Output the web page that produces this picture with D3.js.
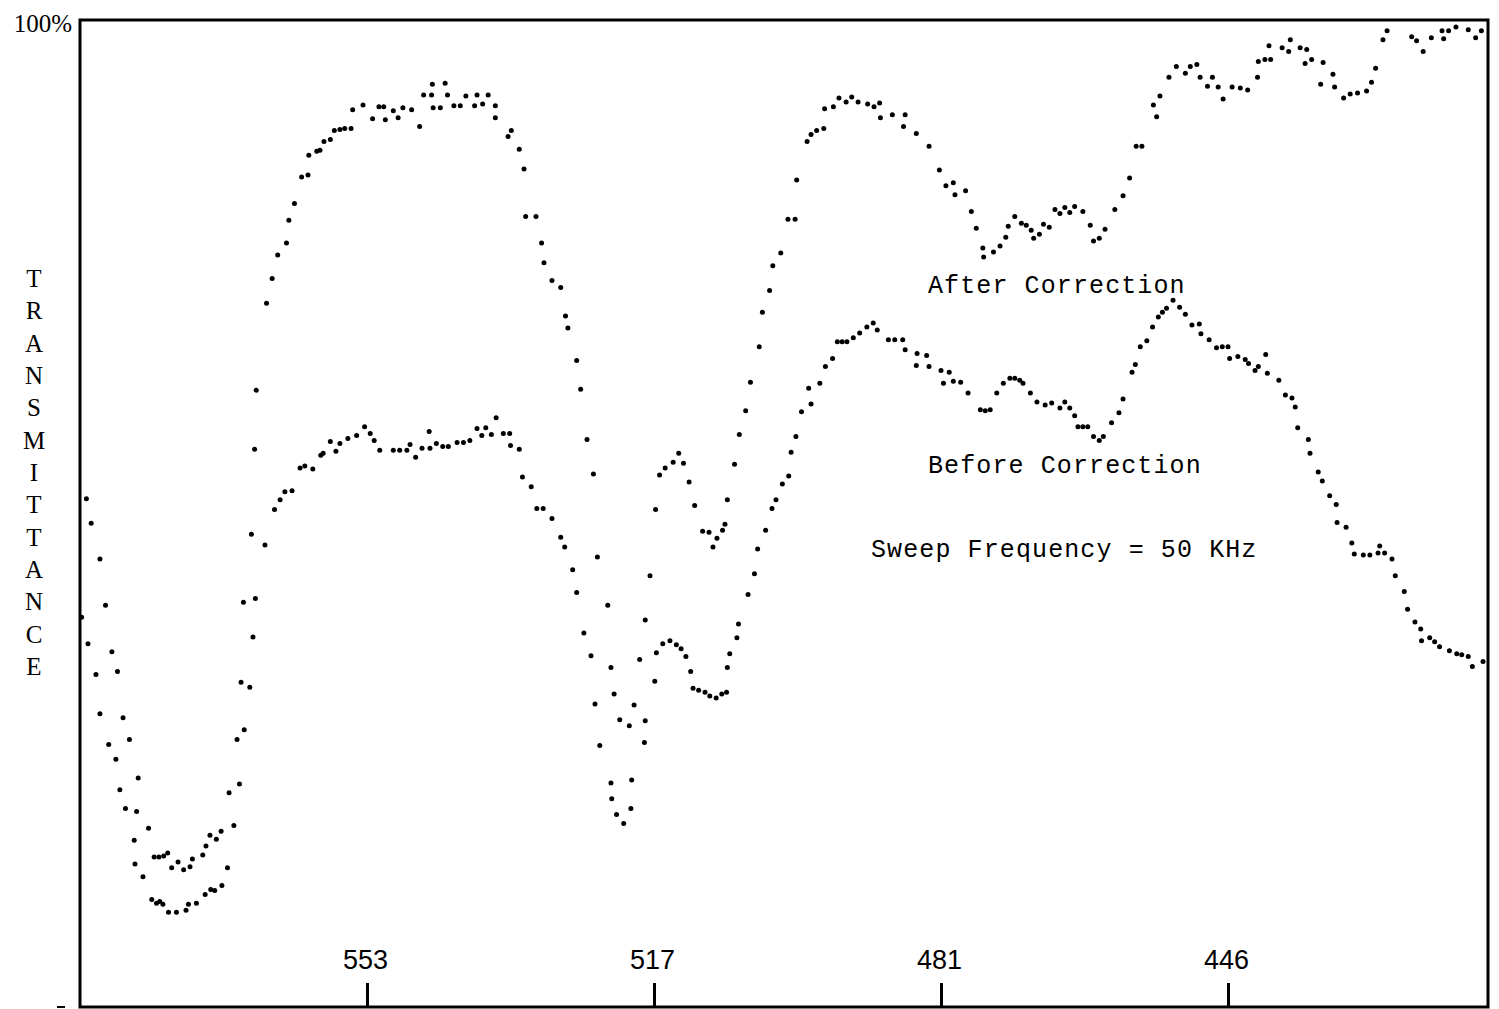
<!DOCTYPE html>
<html>
<head>
<meta charset="utf-8">
<script src="https://cdn.jsdelivr.net/npm/d3@7"></script>
<style>
  html, body { margin: 0; padding: 0; background: #fff; }
  svg { display: block; }
</style>
</head>
<body>
<svg id="chart" width="1499" height="1009"></svg>
<script>
// ---------------- DATA ----------------
const tickValues = [553, 517, 481, 446];
const tickLabels = ["553", "517", "481", "446"];
const yAxisTitle = "TRANSMITTANCE";
const topLabel = "100%";
const seriesLabels = ["After Correction", "Before Correction", "Sweep Frequency = 50 KHz"];

// [wavenumber, transmittance %]
const afterCorrection = [
  [588.2,51.5],[587.6,49.0],[586.5,45.4],[585.8,40.7],[585.0,36.0],[584.3,34.0],[583.6,29.3],[582.8,27.1],[581.7,23.2],[581.9,19.8],
  [580.4,18.1],[579.7,15.2],[579.1,15.2],[578.5,15.3],[578.0,15.6],[577.5,14.1],[576.7,14.7],[576.0,13.9],[575.2,14.2],[574.9,15.0],
  [573.6,15.4],[573.2,16.3],[572.7,17.4],[571.9,17.0],[571.3,17.8],[570.3,21.7],[569.3,27.1],[568.8,32.9],[568.5,41.0],[567.5,47.9],
  [567.1,56.5],[566.9,62.5],[565.6,71.3],[564.9,73.8],[564.2,76.2],[563.1,77.4],[562.8,79.7],[562.1,81.4],[561.2,84.1],[560.4,84.3],
  [560.3,86.3],[559.3,86.7],[558.9,86.8],[558.4,87.7],[557.6,87.9],[557.1,88.8],[556.4,88.9],[555.8,89.0],[555.0,89.0],[554.8,90.9],
  [553.5,91.4],[552.3,90.0],[551.5,91.2],[550.9,91.2],[550.7,89.9],[549.7,90.8],[549.1,90.1],[548.5,91.1],[547.4,90.9],[546.4,89.2],
  [545.9,92.4],[544.9,92.4],[544.8,93.5],[543.2,93.6],[544.7,91.1],[543.8,91.1],
  [542.9,92.4],[542.1,91.3],[541.3,91.3],[540.6,92.3],[539.5,91.3],[539.2,92.4],[538.5,91.5],[537.8,92.4],[536.9,91.3],[536.9,90.1],
  [535.3,88.2],[534.9,88.8],[533.9,86.9],[533.3,84.9],[533.1,80.1],[531.8,80.1],[531.1,77.4],[530.8,75.4],[529.8,73.6],[528.7,72.9],
  [528.1,70.0],[527.8,68.8],[526.7,65.5],[526.2,62.6],[525.4,57.5],[524.6,54.0],[524.1,45.6],[522.8,40.7],[522.4,34.4],[522.0,31.7],
  [521.3,29.1],[520.1,28.5],[519.5,30.6],[518.8,35.2],[518.1,39.2],[517.5,43.7],[516.8,50.4],[516.3,53.9],[515.6,54.6],[514.6,55.2],
  [513.9,56.1],[513.3,55.1],[512.6,53.2],[511.9,50.8],[510.9,48.2],[510.1,48.1],[509.6,46.6],[509.1,47.5],[508.4,48.3],[508.1,48.9],
  [507.8,51.4],[506.9,55.0],[506.3,58.0],[505.5,60.4],[504.9,63.3],[503.8,66.9],[503.4,70.4],[502.5,72.6],[502.1,75.1],[501.1,76.4],
  [500.2,79.8],[499.3,79.8],[499.1,83.8],[497.8,87.7],[497.3,88.4],[496.6,88.8],[495.7,89.0],[495.6,91.0],[494.5,91.2],[493.8,92.1],
  [492.9,91.7],[492.2,92.2],[491.4,91.7],[490.2,91.5],[489.4,91.2],[488.7,91.6],[488.6,90.1],[487.1,90.4],[485.5,90.4],[485.7,89.2],
  [484.1,88.5],[482.5,87.2],[481.2,84.8],[480.4,83.2],[479.5,83.5],[479.3,82.3],[478.0,82.7],[477.3,80.6],[476.7,78.9],[475.9,76.9],
  [475.8,76.0],[474.6,76.5],[473.8,77.1],[473.1,78.0],[472.8,79.1],[472.0,80.1],[471.2,79.4],[470.6,79.2],[470.0,78.7],[469.7,77.9],
  [469.0,78.3],[468.5,79.3],[467.8,79.0],[467.1,80.8],[466.5,80.4],[465.9,81.0],[465.3,80.5],[464.7,81.1],[463.7,80.6],[462.8,79.2],
  [462.4,77.6],[461.7,77.9],[461.0,78.8],[459.8,80.8],[458.8,82.2],[458.0,84.0],[457.2,87.2],[456.5,87.2],[455.1,91.4],[454.7,90.2],
  [454.3,92.3],[453.2,94.2],[452.3,95.3],[451.2,94.6],[450.6,95.3],[449.8,95.5],[449.4,94.2],[448.5,93.3],[447.9,94.2],[447.2,93.2],
  [446.6,92.0],[445.5,93.2],[444.5,93.1],[443.6,92.9],[442.4,94.2],[442.3,95.8],[441.5,96.0],[441.0,97.4],[440.8,96.0],[439.4,97.2],
  [438.6,96.8],[438.4,98.0],[437.2,97.2],[436.4,97.0],[436.6,95.6],[435.8,96.0],[434.7,93.5],[434.4,95.7],[433.2,94.5],[433.0,93.2],
  [431.9,92.1],[431.1,92.5],[430.2,92.6],[429.1,92.8],[428.5,93.7],[428.0,95.1],[427.1,98.0],[426.6,98.9],[423.6,98.3],[423.0,97.9],
  [422.2,96.8],[421.2,98.2],[419.9,98.9],[419.7,98.1],[419.1,98.9],[418.2,99.3],[416.7,99.0],[415.8,98.2],[415.1,98.9]
];

const beforeCorrection = [
  [588.8,39.5],[588.0,36.8],[587.0,33.7],[586.5,29.7],[585.4,26.6],[584.5,25.1],[584.0,22.0],[583.3,20.1],[582.2,16.9],[582.1,14.5],
  [581.1,13.2],[580.0,10.9],[579.4,10.5],[579.0,10.7],[578.6,10.4],[577.9,9.6],[576.9,9.6],[575.7,9.8],[575.4,10.4],[574.4,10.5],
  [573.3,11.4],[572.6,11.9],[572.1,11.8],[571.2,12.3],[570.5,14.1],[569.7,18.4],[569.0,22.6],[568.4,28.1],[567.7,32.4],[567.3,37.5],
  [567.0,41.4],[565.8,46.8],[564.6,50.4],[563.9,51.4],[563.3,52.2],[562.4,52.3],[561.4,54.6],[560.8,54.8],[559.8,54.5],[558.8,55.9],
  [558.5,56.1],[557.6,57.3],[556.9,56.3],[556.4,57.1],[555.4,57.6],[554.3,57.9],[553.3,58.8],[552.6,58.1],[552.1,57.4],[551.4,56.4],
  [549.7,56.4],[548.9,56.4],[548.0,56.4],[547.6,57.0],[546.9,55.7],[546.1,56.6],[545.1,56.6],[545.2,58.3],[544.3,57.1],[543.5,56.8],
  [542.8,56.8],[541.7,57.2],[540.9,57.2],[540.1,57.4],[539.2,58.6],[538.1,58.7],[538.6,57.9],[537.4,58.0],[536.8,59.7],[535.9,58.1],
  [535.1,58.1],[535.0,56.9],[533.9,56.5],[533.5,53.7],[532.4,52.7],[531.7,50.5],[530.9,50.5],[529.8,49.5],[528.7,47.6],[528.2,46.6],
  [527.2,44.3],[526.7,42.0],[525.8,37.9],[524.9,35.6],[524.4,30.7],[523.8,26.5],[522.4,22.7],[522.3,21.1],[521.7,19.5],[520.8,18.6],
  [519.9,20.1],[519.8,23.0],[518.2,26.8],[518.1,29.0],[516.9,33.0],[516.7,35.9],[515.9,36.8],[515.0,37.1],[514.2,36.7],[513.6,36.3],
  [513.0,35.5],[512.4,34.0],[512.1,32.3],[511.4,32.1],[510.6,31.9],[510.0,31.5],[509.2,31.3],[508.5,31.7],[507.9,31.9],[507.8,34.4],
  [507.5,35.8],[506.6,37.4],[506.4,38.8],[505.2,41.8],[504.4,43.9],[504.0,46.4],[503.0,48.3],[502.2,50.5],[501.7,51.4],[500.9,53.0],
  [500.1,53.8],[499.8,56.2],[499.2,57.8],[498.5,60.3],[497.3,61.1],[497.6,62.7],[496.2,63.2],[495.5,64.9],[494.6,65.7],[494.0,67.4],
  [493.4,67.4],[492.8,67.4],[492.0,67.8],[491.2,68.3],[490.3,68.9],[489.5,69.3],[489.0,68.6],[487.6,67.6],[486.8,67.6],[485.8,67.6],
  [485.5,66.6],[484.0,66.2],[482.8,66.0],[484.1,65.0],[482.5,64.9],[481.0,64.5],[480.0,64.3],[480.7,63.2],[479.5,63.4],[478.6,63.3],
  [477.7,62.2],[476.2,60.5],[475.6,60.4],[475.0,60.5],[474.2,62.2],[473.4,63.2],[472.6,63.7],[472.0,63.7],[471.4,63.5],[471.0,63.2],
  [470.1,62.2],[469.3,61.3],[468.3,61.0],[467.5,61.2],[466.5,60.7],[465.9,61.3],[465.3,60.7],[464.7,59.9],[464.3,58.8],[463.7,58.8],
  [463.1,58.8],[462.4,57.8],[461.7,57.4],[461.2,57.8],[460.2,59.2],[459.3,60.2],[458.8,61.6],[457.7,64.3],[457.3,65.1],[456.7,66.9],
  [455.9,67.5],[455.2,68.9],[454.5,69.9],[454.0,70.4],[453.5,70.8],[452.7,71.6],[451.9,70.9],[451.2,70.2],[450.4,69.1],[449.5,69.2],
  [449.3,68.2],[448.3,67.6],[447.4,66.8],[446.7,66.9],[446.0,66.9],[445.8,65.7],[444.8,65.9],[443.9,65.6],[443.5,65.2],[442.7,64.5],
  [442.3,64.9],[441.4,66.1],[441.2,64.2],[439.8,63.5],[439.0,62.0],[438.2,61.7],[437.8,60.8],[437.5,58.7],[436.2,57.5],[436.0,56.1],
  [435.0,54.2],[434.5,53.3],[433.6,51.8],[432.8,50.9],[432.7,49.1],[431.6,48.6],[430.9,47.0],[430.6,45.9],[429.5,45.8],[428.7,45.8],
  [427.7,46.0],[427.5,46.7],[426.9,46.0],[426.0,45.4],[425.6,43.7],[424.5,42.1],[424.1,40.3],[423.2,39.0],[422.5,38.3],[422.4,37.1],
  [421.4,37.4],[420.8,37.0],[420.2,36.5],[419.0,36.1],[418.1,35.8],[417.5,35.7],[416.7,35.5],[416.2,34.5],[414.9,35.0]
];

// ---------------- LAYOUT ----------------
const frame = { left: 80, top: 20, right: 1488, bottom: 1007 };
const tickPixels = [367, 654, 941, 1228];

const svg = d3.select("#chart");

const x = d3.scaleLinear().domain(tickValues).range(tickPixels);
const y = d3.scaleLinear().domain([0, 100]).range([frame.bottom, frame.top]);

// frame
svg.append("rect")
  .attr("x", frame.left).attr("y", frame.top)
  .attr("width", frame.right - frame.left)
  .attr("height", frame.bottom - frame.top)
  .attr("fill", "none").attr("stroke", "#000").attr("stroke-width", 3);

// small zero mark at bottom-left
svg.append("line")
  .attr("x1", 57).attr("x2", 65)
  .attr("y1", y(0)).attr("y2", y(0))
  .attr("stroke", "#000").attr("stroke-width", 2);

// bottom ticks pointing inward
const axis = d3.axisTop(x)
  .tickValues(tickValues)
  .tickFormat((d, i) => tickLabels[i])
  .tickSize(24)
  .tickPadding(14);
const ax = svg.append("g").attr("transform", `translate(0,${frame.bottom})`).call(axis);
ax.select(".domain").remove();
ax.selectAll(".tick line").attr("stroke", "#000").attr("stroke-width", 3);
ax.selectAll(".tick text")
  .attr("fill", "#000")
  .attr("dx", "-2")
  .style("font-family", "'Liberation Sans', Arial, sans-serif")
  .style("font-size", "27px");

// 100% label
svg.append("text")
  .attr("x", 72).attr("y", 32)
  .attr("text-anchor", "end")
  .style("font-family", "'Liberation Serif', 'Times New Roman', serif")
  .style("font-size", "25px")
  .text(topLabel);

// vertical axis title (stacked letters)
svg.append("g").selectAll("text")
  .data(yAxisTitle.split(""))
  .join("text")
  .attr("x", 34)
  .attr("y", (d, i) => 287 + i * 32.33)
  .attr("text-anchor", "middle")
  .style("font-family", "'Liberation Serif', 'Times New Roman', serif")
  .style("font-size", "25px")
  .text(d => d);

// series dots
function drawDots(data) {
  svg.append("g").selectAll("circle")
    .data(data)
    .join("circle")
    .attr("cx", d => x(d[0]))
    .attr("cy", d => y(d[1]))
    .attr("r", 2.5)
    .attr("fill", "#000");
}
drawDots(afterCorrection);
drawDots(beforeCorrection);

// annotations
const labelPos = [[928, 293], [928, 473], [871, 557]];
svg.append("g").selectAll("text")
  .data(seriesLabels)
  .join("text")
  .attr("x", (d, i) => labelPos[i][0])
  .attr("y", (d, i) => labelPos[i][1])
  .style("font-family", "'Liberation Mono', 'Courier New', monospace")
  .style("font-size", "25px")
  .style("letter-spacing", "1.1px")
  .attr("fill", "#000")
  .text(d => d);
</script>
</body>
</html>
